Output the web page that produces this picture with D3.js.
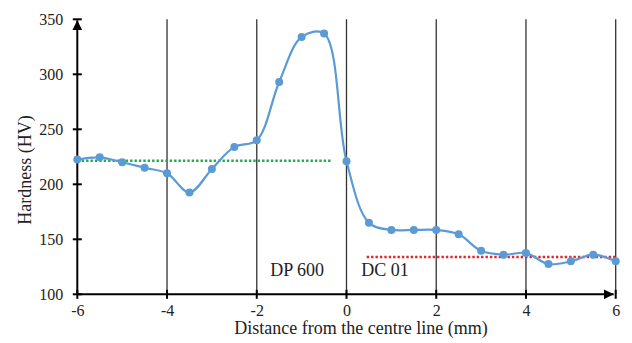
<!DOCTYPE html>
<html>
<head>
<meta charset="utf-8">
<script src="https://cdn.jsdelivr.net/npm/d3@7"></script>
<style>
  body { margin: 0; background: #fff; }
  text { font-family: "Liberation Serif", "Times New Roman", serif; fill: #222; }
</style>
</head>
<body>
<div id="chart"></div>
<script>
// hardness profile across the weld
var distance = [-6, -5.5, -5, -4.5, -4, -3.5, -3, -2.5, -2, -1.5, -1, -0.5, 0,
  0.5, 1, 1.5, 2, 2.5, 3, 3.5, 4, 4.5, 5, 5.5, 6];
var hardness = [222.5, 224.5, 220, 215, 210, 192.5, 214, 234, 240, 293, 334, 337, 221,
  165, 158.5, 158.5, 158.5, 154.5, 139.5, 136, 137.5, 127.5, 130, 136, 130];

// base metal averages (dotted lines)
var dpAvg = { from: -6, to: -0.35, value: 221.5 };
var dcAvg = { from: 0.45, to: 6, value: 134 };

var xTicks = [-6, -4, -2, 0, 2, 4, 6];
var yTicks = [100, 150, 200, 250, 300, 350];
var gridX = [-4, -2, 0, 2, 4, 6];

var svgWidth = 632, svgHeight = 343;
var margin = { top: 19.3, right: 16.3, bottom: 48.7, left: 77.3 };
var width = svgWidth - margin.left - margin.right;
var height = svgHeight - margin.top - margin.bottom;

var svg = d3.select("#chart")
  .append("svg")
  .attr("width", svgWidth)
  .attr("height", svgHeight);

var chartGroup = svg.append("g")
  .attr("transform", `translate(${margin.left}, ${margin.top})`);

var xScale = d3.scaleLinear().domain([-6, 6]).range([0, width]);
var yScale = d3.scaleLinear().domain([100, 350]).range([height, 0]);

// vertical grid lines
chartGroup.selectAll(".grid")
  .data(gridX)
  .enter()
  .append("line")
  .attr("x1", d => xScale(d))
  .attr("x2", d => xScale(d))
  .attr("y1", 0)
  .attr("y2", height)
  .attr("stroke", "#333")
  .attr("stroke-width", 1.3);

// arrow heads
var defs = svg.append("defs");
defs.append("marker")
  .attr("id", "arrow")
  .attr("viewBox", "0 0 10 10")
  .attr("refX", 10)
  .attr("refY", 5)
  .attr("markerWidth", 5)
  .attr("markerHeight", 5)
  .attr("markerUnits", "strokeWidth")
  .attr("orient", "auto")
  .append("path")
  .attr("d", "M0,0 L10,5 L0,10 Z")
  .attr("fill", "#000");

// axes (plain hyphen for negatives, like the original)
var fmt = d => String(d);
var bottomAxis = d3.axisBottom(xScale).tickValues(xTicks).tickFormat(fmt).tickSize(0).tickPadding(10);
var leftAxis = d3.axisLeft(yScale).tickValues(yTicks).tickFormat(fmt).tickSize(0).tickPadding(14);

var xAxisG = chartGroup.append("g")
  .attr("transform", `translate(0, ${height})`)
  .call(bottomAxis);
var yAxisG = chartGroup.append("g").call(leftAxis);

[xAxisG, yAxisG].forEach(function (g) {
  g.select(".domain").remove();
  g.attr("font-family", '"Liberation Serif", serif')
    .attr("font-size", 16);
  g.selectAll("text").attr("fill", "#222");
});

// axis lines with arrows
chartGroup.append("line")
  .attr("x1", 0).attr("x2", width - 2)
  .attr("y1", height).attr("y2", height)
  .attr("stroke", "#000").attr("stroke-width", 2)
  .attr("marker-end", "url(#arrow)");
chartGroup.append("line")
  .attr("x1", 0).attr("x2", 0)
  .attr("y1", height).attr("y2", 1)
  .attr("stroke", "#000").attr("stroke-width", 2)
  .attr("marker-end", "url(#arrow)");

// cross tick marks
chartGroup.selectAll(".xtick")
  .data(xTicks)
  .enter()
  .append("line")
  .attr("x1", d => xScale(d)).attr("x2", d => xScale(d))
  .attr("y1", height - 4.5).attr("y2", height + 4.5)
  .attr("stroke", "#000").attr("stroke-width", 2);
chartGroup.selectAll(".ytick")
  .data(yTicks)
  .enter()
  .append("line")
  .attr("x1", -4.5).attr("x2", 4.5)
  .attr("y1", d => yScale(d)).attr("y2", d => yScale(d))
  .attr("stroke", "#000").attr("stroke-width", 2);

// average lines
[[dpAvg, "#1fae4b"], [dcAvg, "#e0272b"]].forEach(function (p) {
  chartGroup.append("line")
    .attr("x1", xScale(p[0].from)).attr("x2", xScale(p[0].to))
    .attr("y1", yScale(p[0].value)).attr("y2", yScale(p[0].value))
    .attr("stroke", p[1])
    .attr("stroke-width", 2.5)
    .attr("stroke-dasharray", "2.4 2");
});

// hardness curve
var points = distance.map((d, i) => ({ x: d, y: hardness[i] }));
var line = d3.line()
  .x(d => xScale(d.x))
  .y(d => yScale(d.y))
  .curve(d3.curveCatmullRom.alpha(0.5));

chartGroup.append("path")
  .datum(points)
  .attr("d", line)
  .attr("fill", "none")
  .attr("stroke", "#5b9bd5")
  .attr("stroke-width", 2.2);

chartGroup.selectAll("circle")
  .data(points)
  .enter()
  .append("circle")
  .attr("cx", d => xScale(d.x))
  .attr("cy", d => yScale(d.y))
  .attr("r", 4)
  .attr("fill", "#5b9bd5");

// region labels
chartGroup.append("text")
  .attr("x", xScale(-1.7))
  .attr("y", yScale(100) - 18)
  .style("font-size", "18px")
  .text("DP 600");
chartGroup.append("text")
  .attr("x", xScale(0.33))
  .attr("y", yScale(100) - 18)
  .style("font-size", "18px")
  .text("DC 01");

// axis titles
svg.append("text")
  .attr("x", 361)
  .attr("y", 334)
  .attr("text-anchor", "middle")
  .style("font-size", "18px")
  .text("Distance from the centre line (mm)");

svg.append("text")
  .attr("transform", "rotate(-90)")
  .attr("x", -170)
  .attr("y", 31)
  .attr("text-anchor", "middle")
  .style("font-size", "18px")
  .text("Hardness (HV)");
</script>
</body>
</html>
